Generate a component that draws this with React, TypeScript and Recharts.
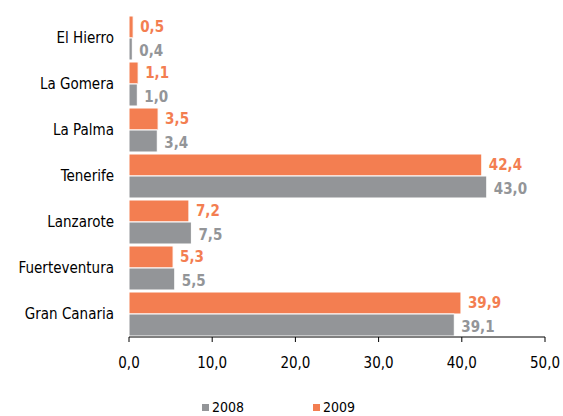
import { BarChart, Bar, XAxis, YAxis, LabelList } from "recharts";

const islands = ["El Hierro", "La Gomera", "La Palma", "Tenerife", "Lanzarote", "Fuerteventura", "Gran Canaria"];
const values2009 = [0.5, 1.1, 3.5, 42.4, 7.2, 5.3, 39.9];
const values2008 = [0.4, 1.0, 3.4, 43.0, 7.5, 5.5, 39.1];
const xTicks = [0, 10, 20, 30, 40, 50];
const bandTicks = [0, 1, 2, 3, 4, 5, 6, 7];

const ORANGE = "#f37e51";
const GRAY = "#939598";
const FONT = "'DejaVu Sans Condensed', 'DejaVu Sans', Verdana, sans-serif";

const data = islands.map((name, i) => ({ name, y2009: values2009[i], y2008: values2008[i] }));

const fmt = (v: number) => v.toFixed(1).replace(".", ",");

const makeLabel = (color: string, dy: number) => (props: any) => {
  const { x, y, width, height, value } = props;
  return (
    <text
      x={Number(x) + Number(width) + 7}
      y={Number(y) + Number(height) / 2 + dy}
      dominantBaseline="central"
      fill={color}
      fontWeight="bold"
      fontSize={15}
      fontFamily={FONT}
      fontStretch="condensed"
    >
      {fmt(Number(value))}
    </text>
  );
};

export default function App() {
  return (
    <div style={{ position: "relative", width: 563, height: 416 }}>
      {/* drop the default body margin so the whole window is usable */}
      <style>{"html,body{margin:0;padding:0;overflow:hidden}"}</style>
      <BarChart
        width={563}
        height={416}
        data={data}
        layout="vertical"
        margin={{ top: 15, right: 18, left: 19, bottom: 0 }}
        barCategoryGap={1}
        barGap={0}
        style={{ overflow: "visible" }}
      >
        <XAxis
          type="number"
          domain={[0, 50]}
          ticks={xTicks}
          tickFormatter={fmt}
          height={79}
          tickSize={5}
          tickMargin={15}
          stroke="#000"
          tick={{ fill: "#000", fontSize: 15, fontFamily: FONT, fontStretch: "condensed" }}
        />
        <YAxis
          yAxisId="bands"
          type="number"
          domain={[0, 7]}
          ticks={bandTicks}
          width={0}
          tick={false}
          tickSize={5}
          stroke="#000"
        />
        <YAxis
          yAxisId="cat"
          type="category"
          dataKey="name"
          width={110}
          tickLine={false}
          axisLine={false}
          tickSize={5}
          tickMargin={10}
          tick={{ fill: "#000", fontSize: 15, fontFamily: FONT, fontStretch: "condensed" }}
        />
        <Bar yAxisId="cat" dataKey="y2009" fill={ORANGE} stroke="#fff" strokeWidth={1} isAnimationActive={false}>
          <LabelList dataKey="y2009" content={makeLabel(ORANGE, 0)} />
        </Bar>
        <Bar yAxisId="cat" dataKey="y2008" fill={GRAY} stroke="#fff" strokeWidth={1} isAnimationActive={false}>
          <LabelList dataKey="y2008" content={makeLabel(GRAY, 2)} />
        </Bar>
      </BarChart>
      <div
        style={{
          position: "absolute",
          top: 399,
          left: 0,
          width: 563,
          fontFamily: FONT,
          fontSize: 14,
          fontStretch: "condensed",
          color: "#000",
        }}
      >
        {[
          { label: "2008", color: GRAY, left: 202 },
          { label: "2009", color: ORANGE, left: 313 },
        ].map((item) => (
          <div
            key={item.label}
            style={{ position: "absolute", left: item.left, top: 0, display: "flex", alignItems: "center", lineHeight: "16px" }}
          >
            <span style={{ display: "inline-block", width: 7, height: 7, background: item.color, marginRight: 3 }} />
            {item.label}
          </div>
        ))}
      </div>
    </div>
  );
}
